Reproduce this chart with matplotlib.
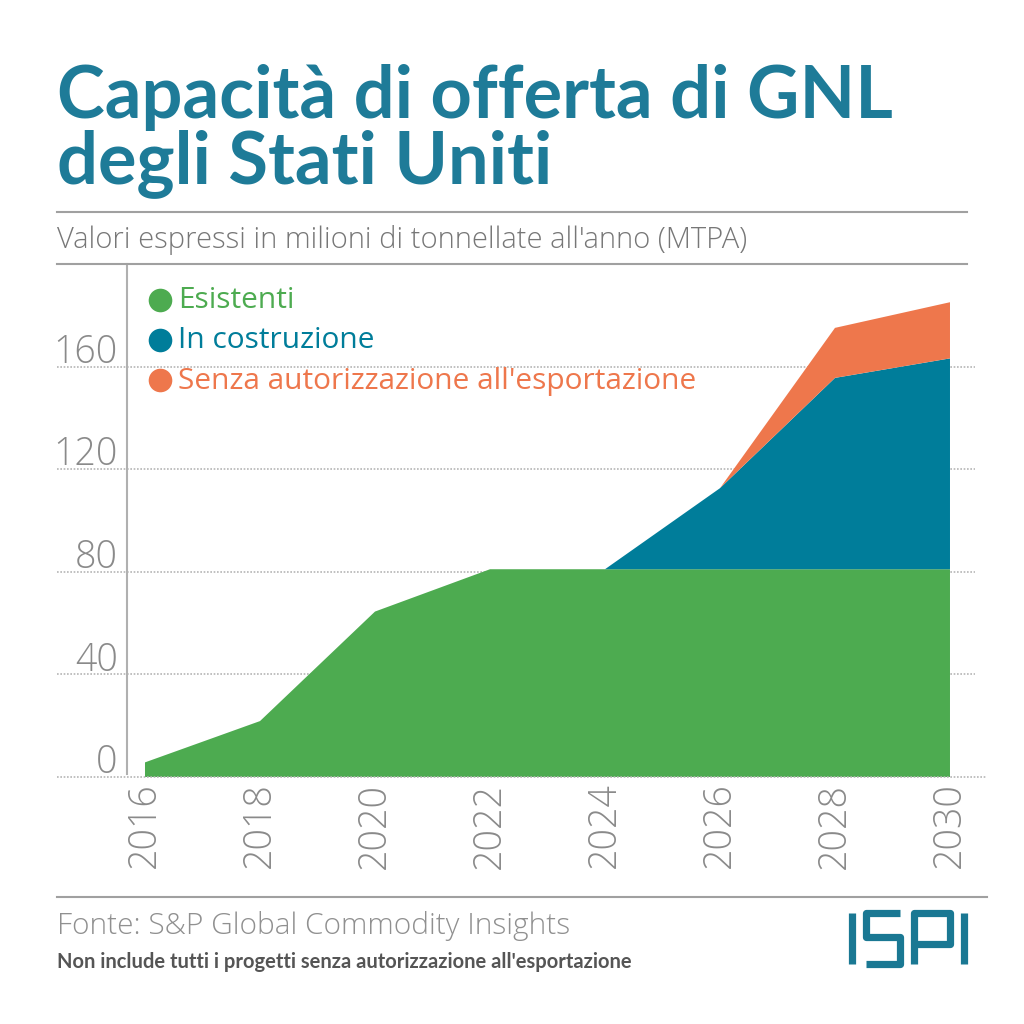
import matplotlib.pyplot as plt
from matplotlib.lines import Line2D

years = [2016, 2018, 2020, 2022, 2024, 2026, 2028, 2030]
esistenti = [5.7, 21.8, 64.5, 81, 81, 81, 81, 81]
in_costruzione = [0, 0, 0, 0, 0, 31.6, 74.6, 82.2]
senza_autorizzazione = [0, 0, 0, 0, 0, 0, 19.5, 21.9]
series_names = ['Esistenti', 'In costruzione', "Senza autorizzazione all'esportazione"]
y_ticks = [0, 40, 80, 120, 160]

green = '#4dab50'
blue = '#007d9a'
orange = '#ee774c'
title_col = '#1e7b98'
grey = '#8a8a8a'
light = ['Open Sans', 'DejaVu Sans']

plt.rcParams['font.family'] = ['Lato', 'DejaVu Sans']

fig = plt.figure(figsize=(10.24, 10.24), dpi=100)
W = H = 1024.0

def fx(px):
    return px / W

def fy(py):
    return 1 - py / H

# title block
fig.text(fx(57), fy(118), 'Capacità di offerta di GNL', fontsize=52, fontweight='bold',
         color=title_col, va='baseline')
fig.text(fx(57), fy(183), 'degli Stati Uniti', fontsize=52, fontweight='bold',
         color=title_col, va='baseline')
fig.add_artist(Line2D([fx(57), fx(967)], [fy(212), fy(212)], color='#a0a0a0', lw=1.5))
fig.text(fx(57), fy(248), "Valori espressi in milioni di tonnellate all'anno (MTPA)",
         fontsize=21, fontweight='light', color='#777777', va='baseline', family=light)
fig.add_artist(Line2D([fx(57), fx(967)], [fy(264), fy(264)], color='#a0a0a0', lw=1.5))

# chart
ax = fig.add_axes([fx(127), fy(777), fx(975) - fx(127), fy(264) - fy(777)])
ax.stackplot(years, esistenti, in_costruzione, senza_autorizzazione,
             colors=[green, blue, orange], linewidth=0)
ax.set_xlim(2015.687, 2030.435)
ax.set_ylim(0, 200)
for s in ['top', 'right', 'bottom']:
    ax.spines[s].set_visible(False)
ax.spines['left'].set_color('#b0b0b0')
ax.spines['left'].set_linewidth(1.5)
ax.spines['left'].set_bounds(1, 200)
ax.set_yticks([])
ax.set_xticks(years)
ax.set_xticklabels([str(y) for y in years], rotation=90, fontsize=27,
                   fontweight='light', color=grey, va='top', family=light)
ax.tick_params(axis='x', length=0, pad=4)

for v in y_ticks:
    x1 = 1.0 if v > 0 else 1.014
    ax.plot([-0.0825, x1], [v, v], transform=ax.get_yaxis_transform(), clip_on=False,
            color='#b5b5b5', lw=1.2, ls=(0, (1, 1)), zorder=0.5 if v > 0 else 3)
    ax.text(-0.011, v + 1.5, str(v), transform=ax.get_yaxis_transform(), ha='right',
            va='baseline', fontsize=27, fontweight='light', color=grey, family=light)

# legend
for i, (name, col) in enumerate(zip(series_names, [green, blue, orange])):
    ypx = 300 + 40 * i
    fig.add_artist(Line2D([fx(160)], [fy(ypx)], marker='o', markersize=17,
                          color=col, markeredgewidth=0))
    fig.text(fx(178), fy(ypx + 1), name, fontsize=21.5, color=col, va='center', family=light)

# footer
fig.add_artist(Line2D([fx(57), fx(987)], [fy(897), fy(897)], color='#a0a0a0', lw=1.5))
fig.text(fx(57), fy(934), 'Fonte: S&P Global Commodity Insights', fontsize=21.5,
         fontweight='light', color='#909090', va='baseline', family=light)
fig.text(fx(57), fy(968), "Non include tutti i progetti senza autorizzazione all'esportazione",
         fontsize=14.5, fontweight='bold', color='#555555', va='baseline')

# ISPI logo drawn as strokes (pixel coords)
logo = [
    [(852, 913), (852, 964)],
    [(900, 913), (866, 913), (866, 937), (900, 937), (900, 964), (866, 964)],
    [(914, 964), (914, 913), (950, 913), (950, 944), (914, 944)],
    [(964, 913), (964, 964)],
]
for stroke in logo:
    xs = [fx(p[0]) for p in stroke]
    ys = [fy(p[1]) for p in stroke]
    fig.add_artist(Line2D(xs, ys, color='#1a7893', lw=5.2, solid_capstyle='butt',
                          solid_joinstyle='round'))

fig.savefig('out.png', dpi=100, facecolor='white')
